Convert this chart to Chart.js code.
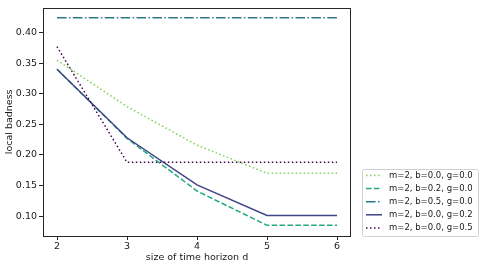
<!DOCTYPE html>
<html>
<head>
<meta charset="utf-8">
<script src="https://cdn.jsdelivr.net/npm/chart.js@4"></script>
<style>
  html, body { margin: 0; padding: 0; background: #fff; }
  #wrap { width: 485px; height: 268px; }
</style>
</head>
<body>
<div id="wrap"><canvas id="chart" width="485" height="268"></canvas></div>
<script>
// horizon sizes d
const horizons = [2, 3, 4, 5, 6];
const xTicks = [2, 3, 4, 5, 6];
const yTicks = [0.10, 0.15, 0.20, 0.25, 0.30, 0.35, 0.40];

const labels = [
    'm=2, b=0.0, g=0.0',
    'm=2, b=0.2, g=0.0',
    'm=2, b=0.5, g=0.0',
    'm=2, b=0.0, g=0.2',
    'm=2, b=0.0, g=0.5'
];

const badB00G00 = [0.355, 0.279, 0.216, 0.170, 0.170];
const badB02G00 = [0.340, 0.227, 0.141, 0.085, 0.085];
const badB05G00 = [0.424, 0.424, 0.424, 0.424, 0.424];
const badB00G02 = [0.340, 0.228, 0.151, 0.101, 0.101];
const badB00G05 = [0.377, 0.188, 0.188, 0.188, 0.188];

const seriesValues = [badB00G00, badB02G00, badB05G00, badB00G02, badB00G05];
const colors = ['#7ad151', '#22a884', '#2a788e', '#414487', '#440154'];
const dashes = [[1.5, 2.5], [5.5, 2.4], [9.6, 2.4, 1.5, 2.4], [], [1.5, 2.5]];

const tickFont = { family: 'DejaVu Sans', size: 9.5 };

// later series drawn on top, like matplotlib
const datasets = seriesValues.map((vals, i) => ({
    label: labels[i],
    data: vals.map((v, j) => ({ x: horizons[j], y: v })),
    borderColor: colors[i],
    backgroundColor: colors[i],
    borderDash: dashes[i],
    borderWidth: 1.5,
    pointRadius: 0,
    fill: false,
    tension: 0,
    order: seriesValues.length - i
}));

// frame around the plot and a boxed legend, matplotlib style
const framePlugin = {
    id: 'frame',
    afterDraw(chart) {
        const ctx = chart.ctx;
        const a = chart.chartArea;
        ctx.save();
        ctx.strokeStyle = '#262626';
        ctx.lineWidth = 1;
        ctx.strokeRect(Math.round(a.left) + 0.5, Math.round(a.top) + 0.5,
            Math.round(a.right - a.left) - 1, Math.round(a.bottom - a.top));

        // legend
        const bx = 362, by = 169, bw = 116, bh = 67;
        ctx.fillStyle = 'rgba(255,255,255,0.85)';
        ctx.strokeStyle = '#d0d0d0';
        ctx.lineWidth = 1;
        ctx.beginPath();
        ctx.roundRect(bx + 0.5, by + 0.5, bw, bh, 2);
        ctx.fill();
        ctx.stroke();

        ctx.font = '8.5px "DejaVu Sans"';
        ctx.textBaseline = 'middle';
        ctx.textAlign = 'left';
        chart.data.datasets.forEach((ds, i) => {
            const y = by + 6.5 + i * 13.1;
            ctx.strokeStyle = ds.borderColor;
            ctx.lineWidth = 1.5;
            ctx.setLineDash(ds.borderDash);
            ctx.beginPath();
            ctx.moveTo(bx + 4, y);
            ctx.lineTo(bx + 20, y);
            ctx.stroke();
            ctx.setLineDash([]);
            ctx.fillStyle = '#1a1a1a';
            ctx.fillText(ds.label, bx + 27, y);
        });
        ctx.restore();
    }
};

new Chart(document.getElementById('chart'), {
    type: 'line',
    data: { datasets: datasets },
    options: {
        responsive: false,
        animation: false,
        layout: { padding: { top: 6, right: 134, left: 0, bottom: 0 } },
        plugins: {
            legend: { display: false },
            tooltip: { enabled: false }
        },
        scales: {
            x: {
                type: 'linear',
                min: 1.8,
                max: 6.2,
                afterBuildTicks: scale => { scale.ticks = xTicks.map(v => ({ value: v })); },
                afterFit: scale => { scale.height = 32; },
                border: { display: false },
                grid: { drawOnChartArea: false, drawTicks: true, tickLength: 4, tickColor: '#262626' },
                ticks: { color: '#1a1a1a', font: tickFont, padding: 1, maxRotation: 0 },
                title: { display: true, text: 'size of time horizon d', color: '#1a1a1a', font: tickFont, padding: { top: 0, bottom: 5 } }
            },
            y: {
                type: 'linear',
                min: 0.0675,
                max: 0.4406,
                afterBuildTicks: scale => { scale.ticks = yTicks.map(v => ({ value: v })); },
                afterFit: scale => { scale.width = 43; },
                border: { display: false },
                grid: { drawOnChartArea: false, drawTicks: true, tickLength: 4, tickColor: '#262626' },
                ticks: { color: '#1a1a1a', font: tickFont, padding: 2, callback: v => v.toFixed(2) },
                title: { display: true, text: 'local badness', color: '#1a1a1a', font: tickFont, padding: { top: 4, bottom: 0 } }
            }
        }
    },
    plugins: [framePlugin]
});
</script>
</body>
</html>
